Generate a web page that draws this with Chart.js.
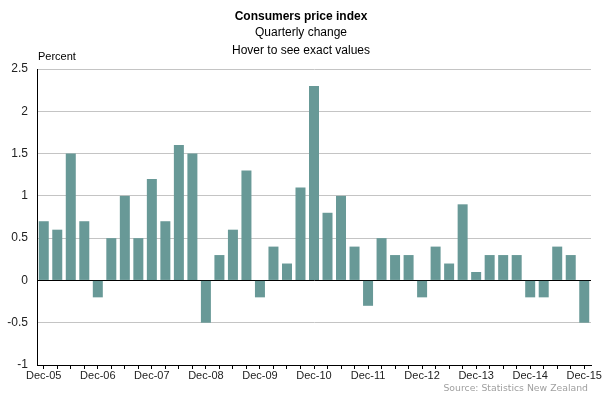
<!DOCTYPE html>
<html>
<head>
<meta charset="utf-8">
<script src="https://cdn.jsdelivr.net/npm/chart.js@4/dist/chart.umd.min.js"></script>
<style>
  body { margin: 0; background: #fff; }
  #wrap { width: 607px; height: 399px; position: relative; }
</style>
</head>
<body>
<div id="wrap"><canvas id="cpi-chart"></canvas></div>
<script>
'use strict';

/*===== Data =====*/
const quarters = [
  'Dec-05', 'Mar-06', 'Jun-06', 'Sep-06',
  'Dec-06', 'Mar-07', 'Jun-07', 'Sep-07',
  'Dec-07', 'Mar-08', 'Jun-08', 'Sep-08',
  'Dec-08', 'Mar-09', 'Jun-09', 'Sep-09',
  'Dec-09', 'Mar-10', 'Jun-10', 'Sep-10',
  'Dec-10', 'Mar-11', 'Jun-11', 'Sep-11',
  'Dec-11', 'Mar-12', 'Jun-12', 'Sep-12',
  'Dec-12', 'Mar-13', 'Jun-13', 'Sep-13',
  'Dec-13', 'Mar-14', 'Jun-14', 'Sep-14',
  'Dec-14', 'Mar-15', 'Jun-15', 'Sep-15',
  'Dec-15'
];
const quarterlyChange = [
  0.7, 0.6, 1.5, 0.7,
  -0.2, 0.5, 1.0, 0.5,
  1.2, 0.7, 1.6, 1.5,
  -0.5, 0.3, 0.6, 1.3,
  -0.2, 0.4, 0.2, 1.1,
  2.3, 0.8, 1.0, 0.4,
  -0.3, 0.5, 0.3, 0.3,
  -0.2, 0.4, 0.2, 0.9,
  0.1, 0.3, 0.3, 0.3,
  -0.2, -0.2, 0.4, 0.3,
  -0.5
];
const titleText = 'Consumers price index';
const subtitleLines = ['Quarterly change', 'Hover to see exact values'];
const unitText = 'Percent';
const sourceText = 'Source: Statistics New Zealand';

/*===== Textes autour du graphique =====*/
const textPlugin = {
  id: 'texts',
  afterDraw(chart) {
    const c = chart.ctx;
    c.save();
    c.fillStyle = '#000';
    c.textAlign = 'center';
    c.textBaseline = 'middle';
    c.font = 'bold 12px "Liberation Sans", Arial, sans-serif';
    c.fillText(titleText, 301, 17);
    c.font = '12px "Liberation Sans", Arial, sans-serif';
    c.fillText(subtitleLines[0], 301, 33);
    c.fillText(subtitleLines[1], 301, 51);
    c.textAlign = 'left';
    c.font = '11px "Liberation Sans", Arial, sans-serif';
    c.fillText(unitText, 38, 57);
    c.textAlign = 'right';
    c.fillStyle = '#a0a0a0';
    c.font = '9.3px "DejaVu Sans", sans-serif';
    c.fillText(sourceText, 588, 389);
    c.restore();
  }
};

const ctx = document.getElementById('cpi-chart').getContext('2d');

new Chart(ctx, {
  type: 'bar',
  data: {
    labels: quarters,
    datasets: [{
      label: 'Quarterly change',
      data: quarterlyChange,
      backgroundColor: 'rgb(104, 153, 151)',
      categoryPercentage: 1,
      barPercentage: 0.74
    }]
  },
  options: {
    responsive: true,
    maintainAspectRatio: false,
    animation: false,
    layout: { padding: { top: 69, left: 0, right: 16, bottom: 0 } },
    plugins: {
      legend: { display: false },
      title: { display: false },
      tooltip: { enabled: true }
    },
    scales: {
      x: {
        afterFit(scale) { scale.height = 34; },
        border: { color: '#000', width: 1 },
        grid: {
          offset: false,
          drawOnChartArea: false,
          drawTicks: true,
          tickLength: 4,
          tickColor: '#000'
        },
        ticks: {
          autoSkip: false,
          maxRotation: 0,
          padding: 0,
          color: '#222',
          font: { family: '"Liberation Sans", Arial, sans-serif', size: 11 },
          callback: function(value, index) {
            return index % 4 === 0 ? quarters[index] : '';
          }
        }
      },
      y: {
        min: -1,
        max: 2.5,
        afterFit(scale) { scale.width = 37; },
        border: { color: '#000', width: 1 },
        grid: {
          drawTicks: false,
          color: function(context) {
            return context.tick && context.tick.value === 0 ? '#000' : '#c4c4c4';
          }
        },
        ticks: {
          stepSize: 0.5,
          padding: 9,
          color: '#222',
          font: { family: '"Liberation Sans", Arial, sans-serif', size: 12 },
          callback: function(value) {
            return String(value);
          }
        }
      }
    }
  },
  plugins: [textPlugin]
});
</script>
</body>
</html>
